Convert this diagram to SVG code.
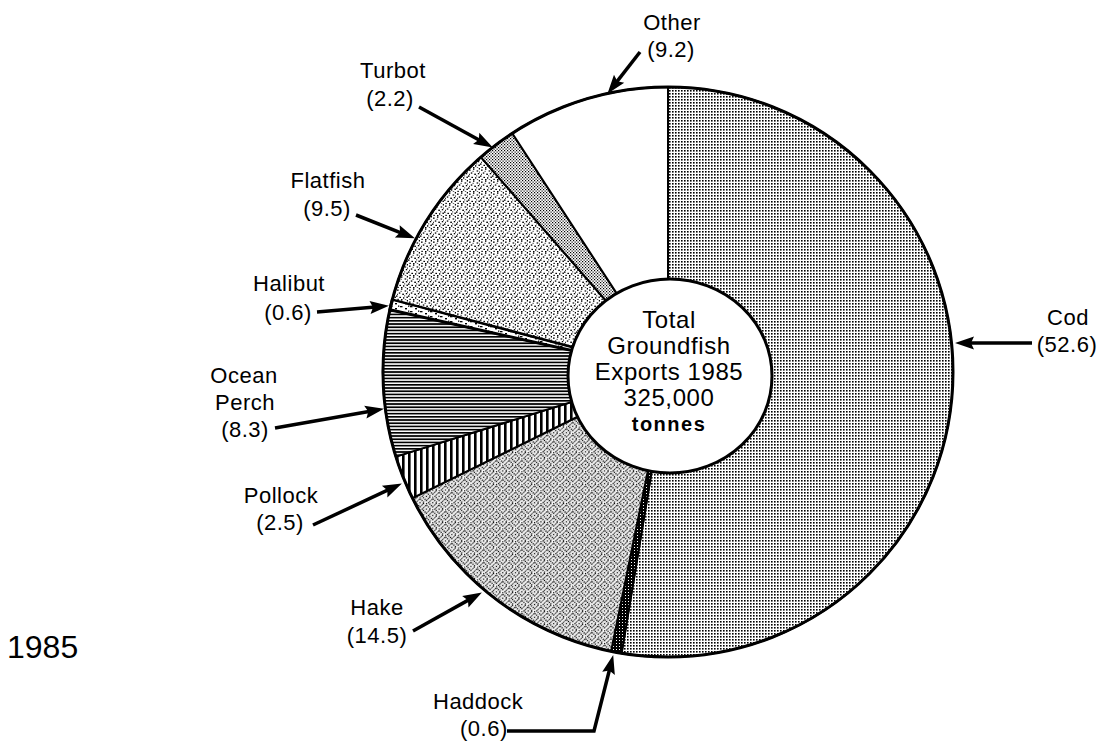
<svg xmlns="http://www.w3.org/2000/svg" width="1103" height="743" viewBox="0 0 1103 743">
<style>
.lbl{font-family:"Liberation Sans",Arial,sans-serif;font-size:22px;letter-spacing:0.5px;fill:#000;text-anchor:middle}
.ctr{font-family:"Liberation Sans",Arial,sans-serif;font-size:24px;letter-spacing:0.6px;fill:#000;text-anchor:middle}
.slice{stroke:#000;stroke-width:2;stroke-linejoin:round}
.arr{fill:none;stroke:#000;stroke-width:3.5;marker-end:url(#ah)}
</style>
<defs>
<marker id="ah" markerUnits="userSpaceOnUse" markerWidth="22" markerHeight="14" refX="8" refY="6.5" orient="auto" overflow="visible">
<path d="M0,0 L19,6.5 L0,13 L3,6.5 Z" fill="#000"/>
</marker>
<pattern id="pCod" patternUnits="userSpaceOnUse" width="3" height="3">
<rect width="3" height="3" fill="#fff"/><rect x="0" y="0" width="1.6" height="1.6" fill="#000"/>
</pattern>
<pattern id="pHaddock" patternUnits="userSpaceOnUse" width="3" height="3">
<rect width="3" height="3" fill="#000"/><rect x="1" y="1" width="1" height="1" fill="#fff"/>
</pattern>
<pattern id="pHake" patternUnits="userSpaceOnUse" width="9" height="9" patternTransform="rotate(45)">
<rect width="9" height="9" fill="#fff"/>
<rect x="1.5" y="1.5" width="6" height="6" fill="none" stroke="#000" stroke-width="1.3" stroke-dasharray="1.3 0.9"/>
<rect x="3.8" y="3.8" width="1.4" height="1.4" fill="#000"/>
<rect x="0" y="0" width="1" height="1" fill="#000"/>
</pattern>
<pattern id="pPollock" patternUnits="userSpaceOnUse" width="6" height="6">
<rect width="6" height="6" fill="#fff"/><rect x="0" y="0" width="2.6" height="6" fill="#000"/>
</pattern>
<pattern id="pPerch" patternUnits="userSpaceOnUse" width="6" height="3.2">
<rect width="6" height="3.2" fill="#fff"/><rect x="0" y="0" width="6" height="1.7" fill="#000"/>
</pattern>
<pattern id="pHalibut" patternUnits="userSpaceOnUse" width="10" height="5">
<rect width="10" height="5" fill="#fff"/>
<rect x="0" y="1" width="2.5" height="1.3" fill="#000"/><rect x="5" y="3" width="2" height="1.4" fill="#000"/><rect x="8" y="0.5" width="1.3" height="1.3" fill="#000"/>
</pattern>
<pattern id="pFlat" patternUnits="userSpaceOnUse" width="12" height="12">
<rect width="12" height="12" fill="#fff"/>
<g fill="#000">
<rect x="1" y="1.5" width="1.6" height="1.3"/><rect x="5" y="0.3" width="1.4" height="1.5"/><rect x="8.6" y="2.4" width="1.6" height="1.2"/>
<rect x="10.8" y="0" width="1.2" height="1.5"/><rect x="2.8" y="4.4" width="1.5" height="1.3"/><rect x="6.3" y="5.6" width="1.6" height="1.4"/>
<rect x="9.8" y="5" width="1.4" height="1.3"/><rect x="0" y="7.4" width="1.5" height="1.4"/><rect x="3.4" y="8.8" width="1.6" height="1.2"/>
<rect x="7" y="9.2" width="1.3" height="1.5"/><rect x="10.4" y="8.6" width="1.6" height="1.3"/><rect x="1.4" y="10.8" width="1.4" height="1.2"/>
<rect x="5" y="11" width="1.5" height="1"/><rect x="8.8" y="11.4" width="1.4" height="0.6"/><rect x="4.6" y="2.8" width="1" height="1"/>
<rect x="11" y="3.6" width="1" height="1"/><rect x="1" y="5.8" width="1" height="1"/><rect x="8.2" y="7.4" width="1" height="1"/>
</g>
</pattern>
<pattern id="pTurbot" patternUnits="userSpaceOnUse" width="3" height="3">
<rect width="3" height="3" fill="#fff"/><rect x="0" y="0" width="1.2" height="1.2" fill="#000"/><rect x="1.5" y="1.5" width="1.2" height="1.2" fill="#000"/>
</pattern>
</defs>
<rect width="1103" height="743" fill="#fff"/>

<g id="cod">
<path class="slice" fill="url(#pCod)" d="M668,372 L668,87 A285,285 0 1 1 621.65,653.21 Z"/>
<text class="lbl" x="1068" y="325">Cod</text>
<text class="lbl" x="1067" y="352">(52.6)</text>
</g>
<g id="haddock">
<path class="slice" fill="url(#pHaddock)" d="M668,372 L621.65,653.21 A285,285 0 0 1 611.09,651.26 Z"/>
<text class="lbl" x="433" y="709" style="text-anchor:start">Haddock</text>
<text class="lbl" x="460" y="736" style="text-anchor:start">(0.6)</text>
</g>
<g id="hake">
<path class="slice" fill="url(#pHake)" d="M668,372 L611.09,651.26 A285,285 0 0 1 412.46,498.2 Z"/>
<text class="lbl" x="377" y="615">Hake</text>
<text class="lbl" x="377" y="643">(14.5)</text>
</g>
<g id="pollock">
<path class="slice" fill="url(#pPollock)" d="M668,372 L412.46,498.2 A285,285 0 0 1 395.86,456.66 Z"/>
<text class="lbl" x="281" y="503">Pollock</text>
<text class="lbl" x="280" y="530">(2.5)</text>
</g>
<g id="ocean-perch">
<path class="slice" fill="url(#pPerch)" d="M668,372 L395.86,456.66 A285,285 0 0 1 389.86,309.83 Z"/>
<text class="lbl" x="244" y="383">Ocean</text>
<text class="lbl" x="245" y="410">Perch</text>
<text class="lbl" x="245" y="437">(8.3)</text>
</g>
<g id="halibut">
<path class="slice" fill="url(#pHalibut)" d="M668,372 L389.86,309.83 A285,285 0 0 1 392.4,299.39 Z" style="stroke-width:3"/>
<text class="lbl" x="289" y="291">Halibut</text>
<text class="lbl" x="288" y="320">(0.6)</text>
</g>
<g id="flatfish">
<path class="slice" fill="url(#pFlat)" d="M668,372 L392.4,299.39 A285,285 0 0 1 480.86,157.05 Z"/>
<text class="lbl" x="328" y="188">Flatfish</text>
<text class="lbl" x="327" y="216">(9.5)</text>
</g>
<g id="turbot">
<path class="slice" fill="url(#pTurbot)" d="M668,372 L480.86,157.05 A285,285 0 0 1 512.26,133.32 Z"/>
<text class="lbl" x="393" y="78">Turbot</text>
<text class="lbl" x="390" y="106">(2.2)</text>
</g>
<g id="other">
<path class="slice" fill="#fff" d="M668,372 L512.26,133.32 A285,285 0 0 1 668,87 Z"/>
<text class="lbl" x="672" y="30">Other</text>
<text class="lbl" x="671" y="57">(9.2)</text>
</g>
<circle cx="668" cy="372" r="285" fill="none" stroke="#000" stroke-width="3"/>

<g id="center">
<ellipse cx="670" cy="376" rx="102" ry="97" fill="#fff" stroke="#000" stroke-width="3"/>
<text class="ctr" x="669" y="328">Total</text>
<text class="ctr" x="669" y="354">Groundfish</text>
<text class="ctr" x="669" y="380">Exports 1985</text>
<text class="ctr" x="669" y="406">325,000</text>
<text class="ctr" x="669" y="431" style="font-size:20px;font-weight:bold;letter-spacing:1.5px">tonnes</text>
</g>

<g id="connectors">
<path class="arr" d="M640,52 L614.2,85.1"/>
<path class="arr" d="M419,107 L483.2,142.2"/>
<path class="arr" d="M356,215 L404.7,234.3"/>
<path class="arr" d="M317,312 L378,306.8"/>
<path class="arr" d="M275,428 L373.2,410.7"/>
<path class="arr" d="M313,525 L391.9,488.2"/>
<path class="arr" d="M413,631 L472.3,597.9"/>
<path class="arr" d="M507,731 L594,731 L610.5,665.7"/>
<path class="arr" d="M1032,343 L966,343"/>
</g>

<g id="year">
<text x="7" y="658" style="font-family:'Liberation Sans',Arial,sans-serif;font-size:32px;fill:#000">1985</text>
</g>
</svg>
